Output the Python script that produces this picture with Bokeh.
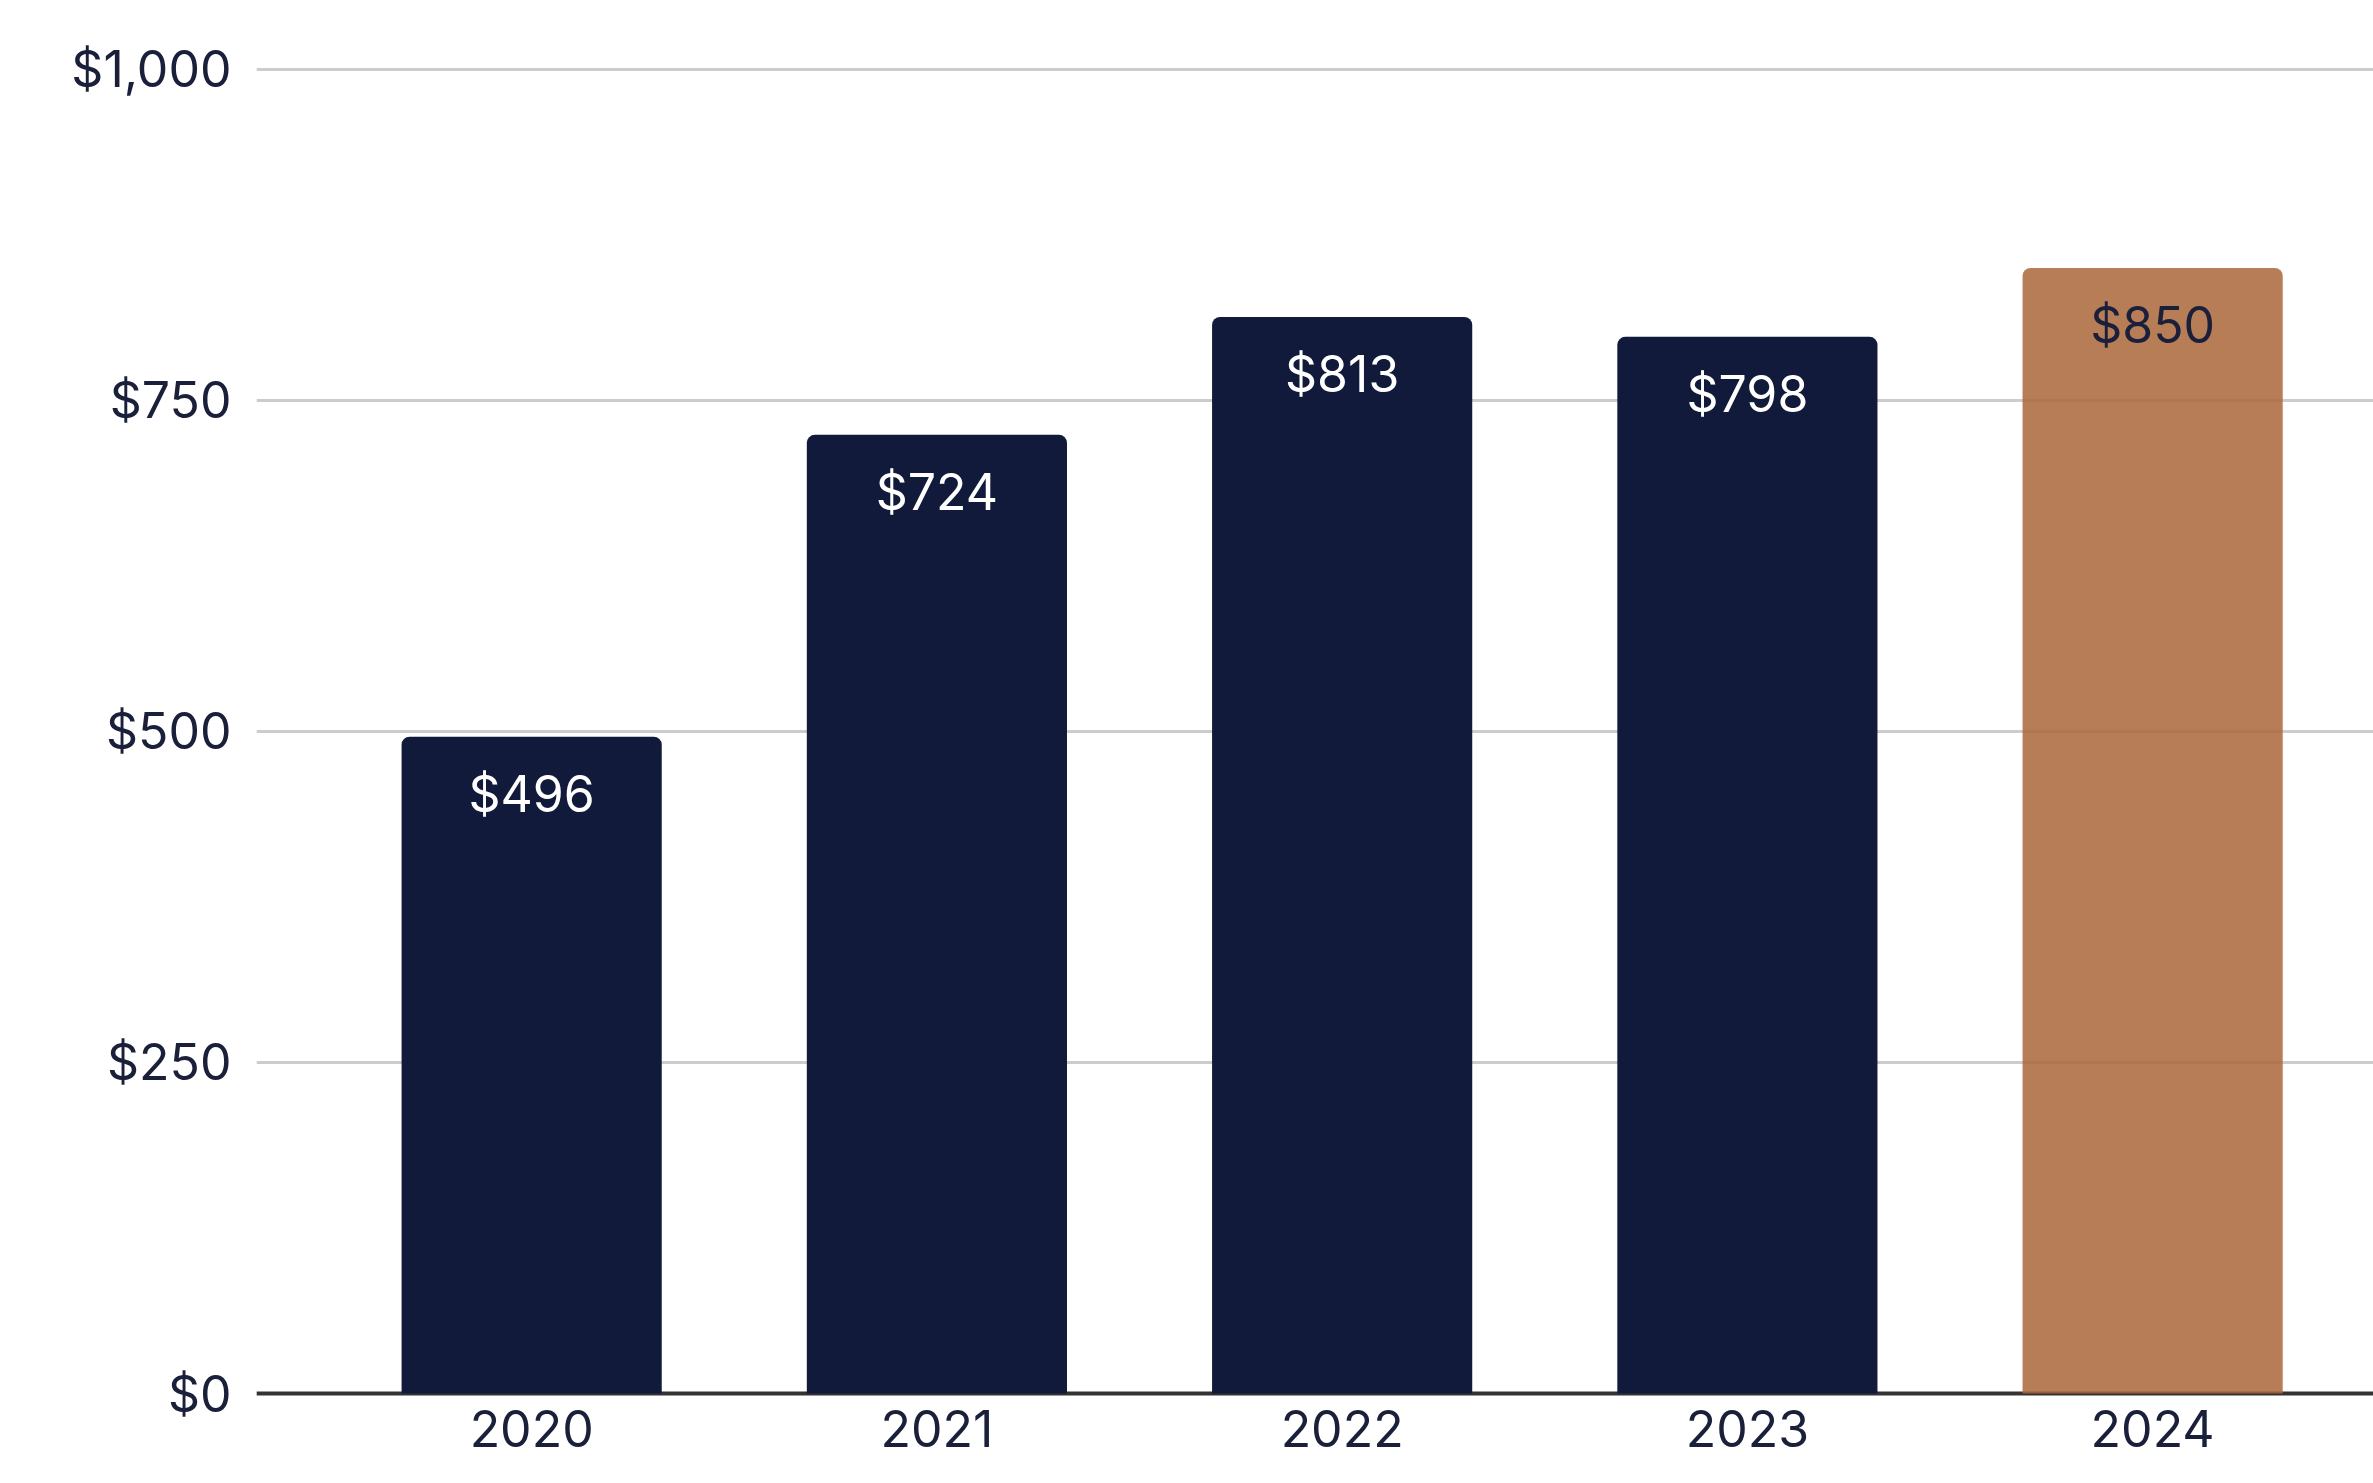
from bokeh.plotting import figure
from bokeh.models import Range1d, FixedTicker, NumeralTickFormatter, ColumnDataSource, Span
from bokeh.core.properties import value
from bokeh.embed import file_html
from bokeh.resources import INLINE

years = ["2020", "2021", "2022", "2023", "2024"]
amounts = [496, 724, 813, 798, 850]
bar_labels = ["$496", "$724", "$813", "$798", "$850"]
bar_colors = ["#111a3a", "#111a3a", "#111a3a", "#111a3a", "#aa6639"]
bar_alphas = [1.0, 1.0, 1.0, 1.0, 0.85]
label_colors = ["#ffffff", "#ffffff", "#ffffff", "#ffffff", "#1a1f3a"]
y_ticks = [0, 250, 500, 750, 1000]

FONT = "Inter"
TEXT = "#1a1f3a"

idx = list(range(len(years)))
src = ColumnDataSource(dict(x=idx, top=amounts, label=bar_labels, color=bar_colors,
                            alpha=bar_alphas, lcolor=label_colors))

p = figure(width=2373, height=1483, output_backend="svg", toolbar_location=None,
           x_range=Range1d(-0.679, 4.545), y_range=Range1d(-3, 1052),
           min_border_left=256, min_border_right=0, min_border_top=0, min_border_bottom=86)
p.outline_line_color = None
p.background_fill_color = "white"
p.border_fill_color = "white"

p.xgrid.grid_line_color = None
p.ygrid.grid_line_color = "#cccccc"
p.ygrid.grid_line_width = 3
p.ygrid.ticker = FixedTicker(ticks=y_ticks)

baseline = Span(location=0, dimension="width", line_color="#333333", line_width=4,
                level="underlay")
p.add_layout(baseline)

p.vbar(x="x", top="top", bottom=0, width=0.642, source=src, fill_color="color",
       fill_alpha="alpha", line_color=None, border_radius=(8, 8, 0, 0))

p.text(x="x", y="top", text="label", source=src, text_color="lcolor", y_offset=57,
       text_align="center", text_baseline="middle", text_font=value(FONT),
       text_font_size="50px")

p.yaxis.ticker = FixedTicker(ticks=y_ticks)
p.yaxis.formatter = NumeralTickFormatter(format="$0,0")
p.yaxis.axis_line_color = None
p.yaxis.major_tick_line_color = None
p.yaxis.minor_tick_line_color = None
p.yaxis.major_tick_out = 0
p.yaxis.major_label_standoff = 25
p.yaxis.major_label_text_font = FONT
p.yaxis.major_label_text_font_size = "50px"
p.yaxis.major_label_text_color = TEXT

p.xaxis.ticker = FixedTicker(ticks=idx)
p.xaxis.major_label_overrides = {i: y for i, y in zip(idx, years)}
p.xaxis.axis_line_color = None
p.xaxis.major_tick_line_color = None
p.xaxis.minor_tick_line_color = None
p.xaxis.major_tick_out = 0
p.xaxis.major_label_standoff = 12
p.xaxis.major_label_text_font = FONT
p.xaxis.major_label_text_font_size = "50px"
p.xaxis.major_label_text_color = TEXT

open("out.html", "w").write(file_html(p, INLINE))
